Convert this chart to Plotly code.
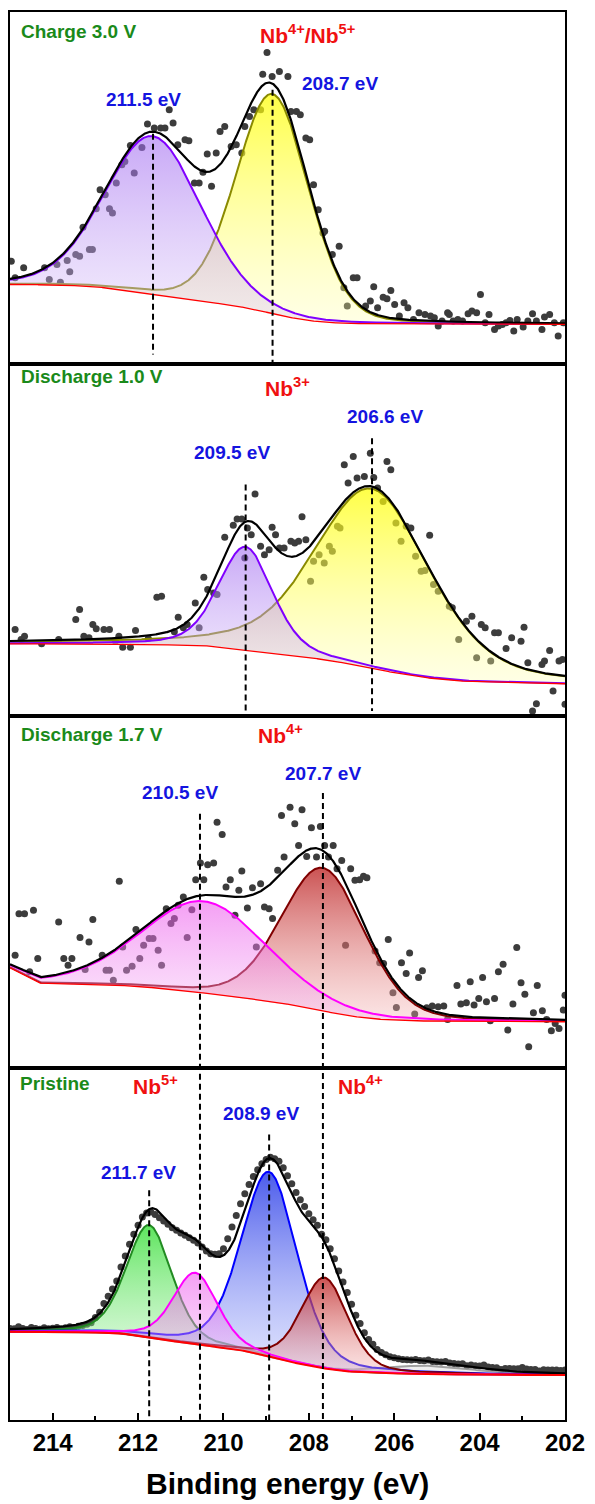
import numpy as np
import plotly.graph_objects as go

# ---------------- data ----------------
TICK_MAJOR = [214, 212, 210, 208, 206, 204, 202]
TICK_MINOR = [215, 213, 211, 209, 207, 205, 203]

# Panel 1 : Charge 3.0 V
p1_x = [214.97, 214.88, 214.68, 214.19, 214.08, 213.90, 213.82, 213.66, 213.60, 213.46,
        213.37, 213.29, 213.14, 213.07, 212.98, 212.89, 212.77, 212.67, 212.60, 212.51,
        212.38, 212.31, 212.18, 212.09, 211.91, 211.78, 211.62, 211.47, 211.37, 211.27,
        211.18, 211.07, 210.90, 210.81, 210.68, 210.57, 210.48, 210.38, 210.28, 210.17,
        210.08, 209.97, 209.82, 209.70, 209.57, 209.50, 209.39, 209.29, 209.13, 209.08,
        208.98, 208.86, 208.69, 208.49, 208.42, 208.29, 208.20, 208.07, 207.98, 207.89,
        207.78, 207.67, 207.63, 207.45, 207.29, 207.18, 207.10, 206.96, 206.87, 206.67,
        206.56, 206.48, 206.39, 206.26, 206.17, 206.08, 205.99, 205.88, 205.77, 205.68,
        205.55, 205.42, 205.28, 205.15, 205.06, 204.97, 204.88, 204.75, 204.71, 204.62,
        204.51, 204.40, 204.27, 204.18, 204.07, 203.98, 203.87, 203.78, 203.65, 203.56,
        203.47, 203.38, 203.29, 203.20, 203.12, 202.98, 202.87, 202.76, 202.67, 202.54,
        202.48, 202.36, 202.25, 202.16, 202.04]
p1_y = [309, 259, 289, 289, 254, 299, 246, 311, 277, 329,
        324, 411, 344, 344, 467, 524, 509, 467, 454, 544,
        599, 609, 657, 574, 651, 721, 709, 709, 709, 764,
        724, 659, 674, 671, 544, 544, 576, 631, 534, 634,
        699, 714, 654, 659, 634, 714, 744, 764, 764, 871,
        936, 864, 879, 864, 759, 759, 749, 679, 674, 539,
        464, 394, 399, 329, 354, 229, 174, 259, 259, 174,
        189, 232, 169, 201, 196, 221, 179, 144, 184, 169,
        134, 154, 149, 144, 139, 114, 129, 154, 149, 129,
        134, 129, 151, 159, 154, 209, 124, 149, 104, 114,
        119, 124, 131, 99, 134, 111, 129, 151, 129, 104,
        141, 149, 124, 84, 124]
p1_center = [208.85, 211.65]
p1_amp = [660, 475]
p1_fwhm = [2.0, 2.65]
p1_style = ["yellow", "purple"]
p1_bg = [239, 119]
p1_eta = 0.15

# Panel 2 : Discharge 1.0 V
p2_x = [214.88, 214.74, 214.66, 214.26, 213.86, 213.46, 213.37, 213.27, 213.15, 213.06,
        212.98, 212.80, 212.67, 212.53, 212.45, 212.36, 212.18, 212.06, 211.76, 211.56,
        211.45, 211.15, 211.06, 210.94, 210.85, 210.66, 210.57, 210.46, 210.37, 210.23,
        210.15, 209.97, 209.77, 209.68, 209.57, 209.50, 209.44, 209.35, 209.26, 209.13,
        209.04, 208.93, 208.86, 208.78, 208.69, 208.58, 208.42, 208.33, 208.24, 208.16,
        208.07, 207.96, 207.89, 207.76, 207.64, 207.52, 207.45, 207.33, 207.27, 207.17,
        207.08, 206.96, 206.87, 206.70, 206.56, 206.48, 206.39, 206.26, 206.17, 206.08,
        205.96, 205.84, 205.72, 205.61, 205.50, 205.37, 205.28, 205.17, 205.08, 204.97,
        204.71, 204.64, 204.49, 204.31, 204.18, 204.07, 203.96, 203.87, 203.74, 203.65,
        203.56, 203.38, 203.25, 203.03, 202.96, 202.87, 202.76, 202.67, 202.54, 202.48,
        202.36, 202.28, 202.14, 202.06, 202.00]
p2_y = [260, 230, 240, 217, 230, 290, 320, 240, 235, 275,
        262, 260, 260, 225, 240, 207, 207, 257, 233, 357,
        360, 253, 297, 265, 275, 340, 265, 417, 380, 370,
        365, 537, 573, 592, 592, 475, 565, 545, 667, 510,
        485, 500, 567, 545, 505, 505, 525, 520, 525, 599,
        530, 405, 465, 485, 460, 510, 495, 570, 565, 755,
        700, 780, 715, 720, 790, 717, 685, 645, 765, 740,
        580, 525, 570, 565, 480, 435, 437, 543, 395, 375,
        330, 325, 230, 285, 300, 175, 275, 265, 165, 250,
        250, 203, 235, 225, 267, 160, 15, 37, 155, 165,
        197, 75, 165, 170, 35]
p2_center = [206.52, 209.48]
p2_amp = [540, 310]
p2_fwhm = [3.2, 1.5]
p2_style = ["yellow", "purple"]
p2_bg = [217, 97]
p2_eta = 0.35

# Panel 3 : Discharge 1.7 V
p3_x = [214.88, 214.79, 214.66, 214.54, 214.45, 214.35, 213.86, 213.74, 213.64, 213.55,
        213.36, 213.24, 213.15, 213.06, 212.84, 212.75, 212.67, 212.58, 212.44, 212.36,
        212.27, 212.14, 212.05, 211.96, 211.87, 211.74, 211.65, 211.53, 211.45, 211.34,
        211.23, 211.15, 211.06, 210.94, 210.85, 210.74, 210.65, 210.54, 210.46, 210.37,
        210.23, 210.15, 210.03, 209.94, 209.84, 209.73, 209.64, 209.57, 209.44, 209.32,
        209.23, 209.13, 209.04, 208.93, 208.85, 208.73, 208.64, 208.58, 208.44, 208.33,
        208.24, 208.16, 208.05, 207.94, 207.82, 207.73, 207.63, 207.54, 207.43, 207.34,
        207.23, 207.14, 207.02, 206.92, 206.81, 206.72, 206.64, 206.45, 206.34, 206.25,
        206.14, 206.03, 205.95, 205.83, 205.72, 205.64, 205.52, 205.43, 205.34, 205.24,
        205.11, 204.97, 204.84, 204.75, 204.53, 204.44, 204.31, 204.22, 204.13, 204.02,
        203.93, 203.84, 203.75, 203.65, 203.56, 203.45, 203.34, 203.22, 203.13, 203.03,
        202.94, 202.85, 202.74, 202.65, 202.53, 202.43, 202.32, 202.23, 202.14, 202.04,
        202.00]
p3_y = [339, 464, 464, 289, 474, 329, 439, 329, 309, 329,
        392, 296, 379, 446, 339, 294, 294, 264, 561, 364,
        294, 306, 416, 329, 369, 389, 389, 354, 309, 479,
        434, 449, 489, 514, 392, 476, 566, 616, 566, 611,
        616, 739, 702, 544, 566, 459, 534, 592, 481, 542,
        364, 554, 484, 479, 449, 594, 759, 634, 784, 734,
        669, 776, 636, 722, 634, 726, 669, 634, 669, 599,
        624, 369, 599, 564, 566, 576, 572, 352, 316, 314,
        386, 226, 182, 316, 284, 346, 162, 272, 292, 181,
        186, 184, 186, 146, 248, 192, 196, 259, 189, 209,
        272, 199, 142, 209, 289, 312, 114, 192, 362, 256,
        222, 64, 166, 248, 172, 146, 112, 134, 119, 174,
        219]
p3_center = [207.67, 210.45]
p3_amp = [430, 276]
p3_fwhm = [2.3, 3.45]
p3_style = ["darkred", "magenta"]
p3_bg = [254, 139]
p3_eta = 0.2
p3_edge_x = [214.26, 215.0]
p3_edge_y = [0, 47]

# Panel 4 : Pristine
p4_x = [215.0, 214.9, 214.8, 214.7, 214.6, 214.5, 214.4, 214.3, 214.2, 214.1,
        214.0, 213.9, 213.8, 213.7, 213.6, 213.5, 213.4, 213.3, 213.2, 213.1,
        213.0, 212.9, 212.8, 212.7, 212.6, 212.5, 212.4, 212.3, 212.2, 212.1,
        212.0, 211.9, 211.8, 211.7, 211.6, 211.5, 211.4, 211.3, 211.2, 211.1,
        211.0, 210.9, 210.8, 210.7, 210.6, 210.5, 210.4, 210.3, 210.2, 210.1,
        210.0, 209.9, 209.8, 209.7, 209.6, 209.5, 209.4, 209.3, 209.2, 209.1,
        209.0, 208.9, 208.8, 208.7, 208.6, 208.5, 208.4, 208.3, 208.2, 208.1,
        208.0, 207.9, 207.8, 207.7, 207.6, 207.5, 207.4, 207.3, 207.2, 207.1,
        207.0, 206.9, 206.8, 206.7, 206.6, 206.5, 206.4, 206.3, 206.2, 206.1,
        206.0, 205.9, 205.8, 205.7, 205.6, 205.5, 205.4, 205.3, 205.2, 205.1,
        205.0, 204.9, 204.8, 204.7, 204.6, 204.5, 204.4, 204.3, 204.2, 204.1,
        204.0, 203.9, 203.8, 203.7, 203.6, 203.5, 203.4, 203.3, 203.2, 203.1,
        203.0, 202.9, 202.8, 202.7, 202.6, 202.5, 202.4, 202.3, 202.2, 202.1,
        202.0]
p4_y = [275, 274, 280, 275, 272, 278, 275, 273, 277, 274,
        276, 278, 274, 277, 280, 277, 282, 284, 288, 292,
        308, 324, 350, 372, 394, 418, 460, 493, 528, 558,
        585, 610, 622, 625, 618, 608, 598, 588, 578, 570,
        562, 555, 548, 540, 532, 520, 508, 500, 498, 500,
        515, 545, 580, 615, 650, 680, 708, 732, 752, 770,
        783, 790, 785, 778, 758, 734, 710, 684, 662, 642,
        620, 602, 585, 558, 542, 515, 485, 448, 415, 383,
        348, 315, 290, 262, 242, 228, 212, 203, 196, 190,
        187, 184, 182, 181, 180, 182, 179, 178, 180, 176,
        175, 174, 176, 171, 170, 168, 169, 163, 165, 163,
        162, 165, 159, 158, 157, 152, 155, 155, 154, 154,
        158, 153, 152, 152, 147, 151, 150, 150, 150, 149,
        150]
p4_center = [205.2, 211.74, 208.93, 207.63, 210.66]
p4_amp = [25, 337, 555, 273, 215]
p4_fwhm = [2.5, 1.26, 1.55, 1.29, 1.23]
p4_style = ["gray", "green", "blue", "darkred", "magenta"]
p4_bg = [265, 135]
p4_eta = 0.3

STYLES = {
    "purple":  dict(line="#8000ff", top="rgba(160,105,240,0.58)", bot="rgba(220,200,248,0.35)"),
    "yellow":  dict(line="#8a8a00", top="rgba(255,255,0,0.72)",   bot="rgba(255,255,170,0.3)"),
    "darkred": dict(line="#800000", top="rgba(190,40,40,0.8)",    bot="rgba(245,180,180,0.35)"),
    "magenta": dict(line="#ff00ff", top="rgba(235,80,235,0.55)",  bot="rgba(245,190,245,0.35)"),
    "green":   dict(line="#228b22", top="rgba(40,220,40,0.75)",   bot="rgba(170,240,170,0.3)"),
    "blue":    dict(line="#0000ff", top="rgba(30,50,230,0.8)",    bot="rgba(170,180,250,0.35)"),
    "gray":    dict(line="rgba(150,150,150,0.9)", top="rgba(185,185,185,0.5)", bot="rgba(220,220,220,0.4)"),
}

FONT = "Arial, 'Liberation Sans', sans-serif"

grid = np.linspace(202.0, 215.0, 1301)


def pvoigt(x, c, a, w, eta):
    d2 = 4.0 * (x - c) ** 2 / w ** 2
    return a * (eta / (1.0 + d2) + (1.0 - eta) * np.exp(-np.log(2.0) * d2))


def shirley(comps, bg):
    tot = np.sum(comps, axis=0)
    cum = np.concatenate([[0.0], np.cumsum(0.5 * (tot[1:] + tot[:-1]) * np.diff(grid))])
    return bg[1] + (bg[0] - bg[1]) * cum / cum[-1]


panels = [
    (p1_x, p1_y, p1_center, p1_amp, p1_fwhm, p1_style, p1_bg, p1_eta, None),
    (p2_x, p2_y, p2_center, p2_amp, p2_fwhm, p2_style, p2_bg, p2_eta, None),
    (p3_x, p3_y, p3_center, p3_amp, p3_fwhm, p3_style, p3_bg, p3_eta, (p3_edge_x, p3_edge_y)),
    (p4_x, p4_y, p4_center, p4_amp, p4_fwhm, p4_style, p4_bg, p4_eta, None),
]

fig = go.Figure()
domains = [[0.75, 1.0], [0.5, 0.75], [0.25, 0.5], [0.0, 0.25]]

for i, (px, py, cen, amp, fw, sty, bg, eta, edge) in enumerate(panels):
    k = "" if i == 0 else str(i + 1)
    xa, ya = "x" + k, "y" + k
    comps = [pvoigt(grid, c, a, w, eta) for c, a, w in zip(cen, amp, fw)]
    base = shirley(comps, bg)
    if edge is not None:
        base = base + np.interp(grid, edge[0], edge[1])
    fig.add_trace(go.Scatter(x=px, y=py, mode="markers", xaxis=xa, yaxis=ya,
                             marker=dict(color="#3c3c3c", size=7, line=dict(width=0)),
                             hoverinfo="skip"))
    for comp, s in zip(comps, sty):
        st = STYLES[s]
        top = base + comp
        fig.add_trace(go.Scatter(
            x=np.concatenate([grid, grid[::-1]]),
            y=np.concatenate([top, base[::-1]]),
            mode="lines", fill="toself", xaxis=xa, yaxis=ya,
            line=dict(width=0, color="rgba(0,0,0,0)"),
            fillgradient=dict(type="vertical", colorscale=[[0, st["bot"]], [1, st["top"]]]),
            hoverinfo="skip"))
        fig.add_trace(go.Scatter(x=grid, y=top, mode="lines", xaxis=xa, yaxis=ya,
                                 line=dict(color=st["line"], width=2), hoverinfo="skip"))
    env = base + np.sum(comps, axis=0)
    fig.add_trace(go.Scatter(x=grid, y=env, mode="lines", xaxis=xa, yaxis=ya,
                             line=dict(color="black", width=2.2), hoverinfo="skip"))
    fig.add_trace(go.Scatter(x=grid, y=base, mode="lines", xaxis=xa, yaxis=ya,
                             line=dict(color="#ff0000", width=2 if i == 3 else 1.3),
                             hoverinfo="skip"))

axis_common = dict(showline=True, mirror=True, linewidth=2, linecolor="black",
                   showgrid=False, zeroline=False)
layout = {}
for i in range(4):
    k = "" if i == 0 else str(i + 1)
    xa = dict(range=[215, 202], domain=[0, 1], anchor="y" + k, **axis_common)
    if i < 3:
        xa.update(ticks="", showticklabels=False)
    else:
        xa.update(ticks="inside", tickvals=TICK_MAJOR, ticklen=7, tickwidth=2,
                  tickcolor="black",
                  tickfont=dict(family=FONT, size=24, color="black", weight="bold"),
                  minor=dict(tickvals=TICK_MINOR, ticks="inside", ticklen=4,
                             tickwidth=2, tickcolor="black"))
    layout["xaxis" + k] = xa
    layout["yaxis" + k] = dict(range=[0, 1058], domain=domains[i], anchor="x" + k,
                               ticks="", showticklabels=False, **axis_common)

fig.update_layout(**layout)

# dashed reference lines (x = fitted centres, y in paper fraction)
dash_lines = [
    (p1_center[1], 0.9135, 0.7567), (p1_center[0], 0.9447, 0.7496),
    (p2_center[1], 0.6645, 0.4993), (p2_center[0], 0.6972, 0.5035),
    (210.55, 0.4305, 0.0), (p3_center[0], 0.4454, 0.0),
    (p4_center[1], 0.1631, 0.0), (p4_center[2], 0.2028, 0.0),
]
for xv, y0, y1 in dash_lines:
    fig.add_shape(type="line", xref="x4", yref="paper", x0=xv, x1=xv, y0=y0, y1=y1,
                  line=dict(color="black", width=2, dash="6px,4px"), layer="above")

GREEN, RED, BLUE = "#1a8a1a", "#f01010", "#1414e0"


def ann(text, x, y, color, size, xref="x4", xanchor="center", yanchor="middle"):
    fig.add_annotation(text=text, x=x, y=y, xref=xref, yref="paper", showarrow=False,
                       xanchor=xanchor, yanchor=yanchor,
                       font=dict(family=FONT, size=size, color=color, weight="bold"))


ann("Charge 3.0 V", 0.016, 0.9865, GREEN, 19, xref="paper", xanchor="left")
ann("Nb<sup>4+</sup>/Nb<sup>5+</sup>", 208.02, 0.9844, RED, 21)
ann("211.5 eV", 211.88, 0.9376, BLUE, 19)
ann("208.7 eV", 207.28, 0.9489, BLUE, 19)

ann("Discharge 1.0 V", 0.016, 0.7411, GREEN, 19, xref="paper", xanchor="left")
ann("Nb<sup>3+</sup>", 208.49, 0.7340, RED, 21)
ann("209.5 eV", 209.81, 0.6872, BLUE, 19)
ann("206.6 eV", 206.21, 0.7128, BLUE, 19)

ann("Discharge 1.7 V", 0.016, 0.4872, GREEN, 19, xref="paper", xanchor="left")
ann("Nb<sup>4+</sup>", 208.67, 0.4872, RED, 21)
ann("210.5 eV", 211.02, 0.4454, BLUE, 19)
ann("207.7 eV", 207.67, 0.4589, BLUE, 19)

ann("Pristine", 0.014, 0.2390, GREEN, 19, xref="paper", xanchor="left")
ann("Nb<sup>5+</sup>", 211.60, 0.2376, RED, 21)
ann("Nb<sup>4+</sup>", 206.79, 0.2376, RED, 21)
ann("208.9 eV", 209.12, 0.2177, BLUE, 19)
ann("211.7 eV", 211.98, 0.1759, BLUE, 19)

ann("Binding energy (eV)", 0.5, -0.0582, "black", 30, xref="paper", yanchor="bottom")

fig.update_layout(width=595, height=1504, margin=dict(l=10, r=26, t=10, b=84),
                  plot_bgcolor="white", paper_bgcolor="white", showlegend=False)

fig.write_html("out.html")
